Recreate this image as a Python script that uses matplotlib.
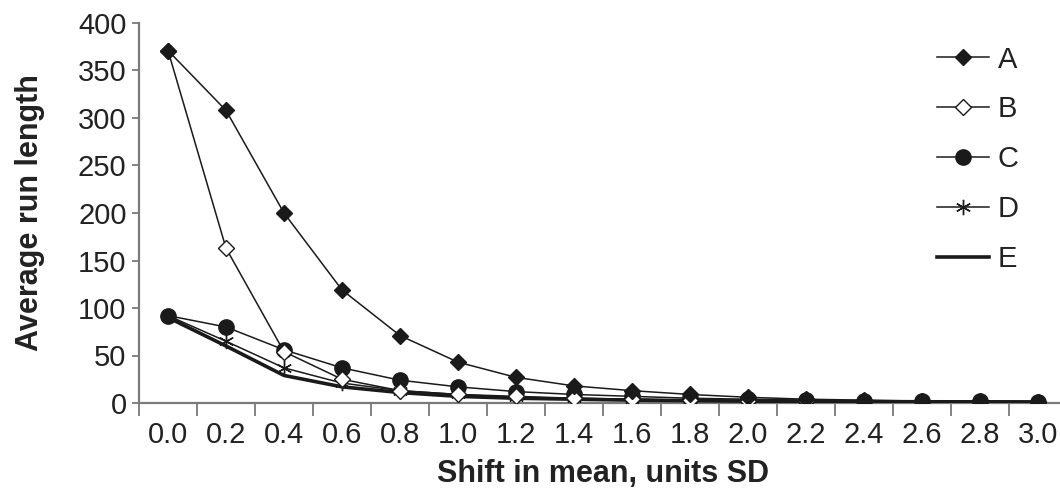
import matplotlib
matplotlib.use('Agg')
import matplotlib.pyplot as plt
import numpy as np

plt.rcParams['font.family'] = ['Liberation Sans', 'DejaVu Sans']

shifts = ['0.0', '0.2', '0.4', '0.6', '0.8', '1.0', '1.2', '1.4',
          '1.6', '1.8', '2.0', '2.2', '2.4', '2.6', '2.8', '3.0']
arl_a = [371, 308, 200, 119, 71, 43, 27, 18, 13, 9, 6, 4, 3, 2, 2, 1.5]
arl_b = [371, 163, 54, 25, 13, 9, 7, 5, 4, 3, 2.5, 2, 1.8, 1.6, 1.5, 1.3]
arl_c = [92, 80, 56, 37, 24, 17, 12, 9, 7, 5, 4, 3, 2.5, 2, 1.7, 1.5]
arl_d = [92, 65, 37, 21, 13, 9, 6, 5, 4, 3, 2.5, 2, 1.8, 1.6, 1.5, 1.3]
arl_e = [90, 60, 29, 17, 11, 7, 5, 4, 3, 2.5, 2, 1.7, 1.5, 1.3, 1.2, 1.1]

ink = '#1a1a1a'
grey = '#7a7a7a'
txt = '#222222'

fig = plt.figure(figsize=(10.6, 4.93), dpi=100)
# left spine at x=139 px, y=0 at 403 px, y=400 at 23 px
ax = fig.add_axes([139 / 1060, 90 / 493, 928 / 1060, 380 / 493])

x = np.arange(len(shifts))
ax.plot(x, arl_e, '-', color=ink, lw=2.6, label='E', zorder=3)
ax.plot(x, arl_d, '-', color=ink, lw=1.1, marker=(6, 2, 0), ms=11,
        mew=1.0, label='D', zorder=4)
ax.plot(x, arl_c, '-', color=ink, lw=1.1, marker='o', ms=11,
        mfc=ink, mec=ink, label='C', zorder=4)
ax.plot(x, arl_b, '-', color=ink, lw=1.1, marker='D', ms=8.5,
        mfc='white', mec=ink, mew=1.0, label='B', zorder=5)
ax.plot(x, arl_a, '-', color=ink, lw=1.1, marker='D', ms=8.5,
        mfc=ink, mec=ink, label='A', zorder=5)

ax.set_xlim(-0.5, len(shifts) - 0.5)
ax.set_ylim(0, 400)
ax.set_yticks(np.arange(0, 401, 50))
ax.set_xticks(x)
ax.set_xticklabels(shifts)
ax.set_xticks(np.arange(-0.5, len(shifts), 1), minor=True)
ax.tick_params(axis='x', which='major', length=0, pad=13,
               labelsize=21, labelcolor=txt)
ax.tick_params(axis='x', which='minor', length=9, width=1.3,
               color=grey, direction='out')
ax.tick_params(axis='y', length=5, width=1.3, color=grey,
               labelsize=21, labelcolor=txt, pad=4)

for side in ['top', 'right']:
    ax.spines[side].set_visible(False)
for side in ['left', 'bottom']:
    ax.spines[side].set_color(grey)
    ax.spines[side].set_linewidth(1.6)

ax.set_xlabel('Shift in mean, units SD', fontsize=22, fontweight='bold',
              color=txt, labelpad=7)
ax.set_ylabel('Average run length', fontsize=22, fontweight='bold',
              color=txt, labelpad=24)

handles, labels = ax.get_legend_handles_labels()
order = ['A', 'B', 'C', 'D', 'E']
hmap = dict(zip(labels, handles))
fig.legend([hmap[k] for k in order], order, loc='upper left',
           bbox_to_anchor=(922 / 1060, 1 - 31 / 493), frameon=False,
           fontsize=21, labelspacing=0.75, handlelength=1.8,
           handletextpad=0.3, borderpad=0, labelcolor=txt)

fig.savefig('out.png', dpi=100)
